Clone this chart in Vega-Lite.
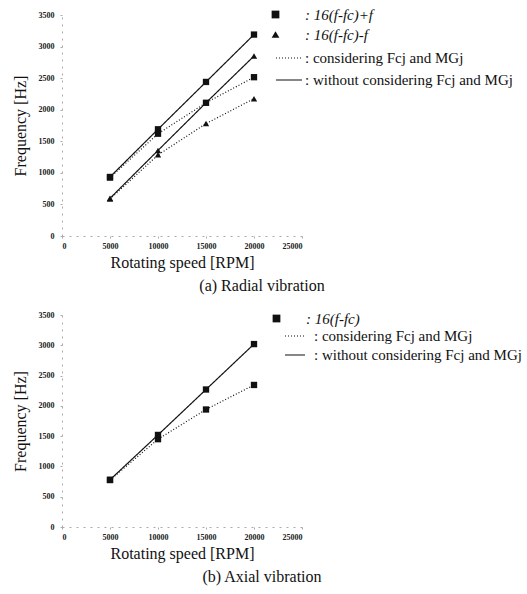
{
  "$schema": "https://vega.github.io/schema/vega-lite/v6.json",
  "background": "white",
  "padding": {"left": 12, "top": 7, "right": 5, "bottom": 5},
  "spacing": 17,
  "config": {
    "view": {"stroke": null},
    "font": "Liberation Serif",
    "axis": {
      "grid": false,
      "labelFont": "Liberation Serif",
      "labelFontSize": 8,
      "labelFontWeight": "bold",
      "labelColor": "#222",
      "titleFont": "Liberation Serif",
      "titleFontSize": 16,
      "titleFontWeight": "normal",
      "titleColor": "#111",
      "domainColor": "#aaa",
      "domainDash": [2, 5],
      "tickColor": "#aaa",
      "tickSize": 2
    },
    "legend": {
      "labelFont": "Liberation Serif",
      "labelFontSize": 15,
      "labelColor": "#111",
      "labelLimit": 400,
      "rowPadding": 4
    }
  },
  "datasets": {
    "radial": [
      {"speed": 5000, "freq": 935, "mode": "plus", "cond": "without"},
      {"speed": 10000, "freq": 1690, "mode": "plus", "cond": "without"},
      {"speed": 15000, "freq": 2440, "mode": "plus", "cond": "without"},
      {"speed": 20000, "freq": 3190, "mode": "plus", "cond": "without"},
      {"speed": 5000, "freq": 925, "mode": "plus", "cond": "considering"},
      {"speed": 10000, "freq": 1620, "mode": "plus", "cond": "considering"},
      {"speed": 15000, "freq": 2110, "mode": "plus", "cond": "considering"},
      {"speed": 20000, "freq": 2515, "mode": "plus", "cond": "considering"},
      {"speed": 5000, "freq": 597, "mode": "minus", "cond": "without"},
      {"speed": 10000, "freq": 1355, "mode": "minus", "cond": "without"},
      {"speed": 15000, "freq": 2110, "mode": "minus", "cond": "without"},
      {"speed": 20000, "freq": 2850, "mode": "minus", "cond": "without"},
      {"speed": 5000, "freq": 585, "mode": "minus", "cond": "considering"},
      {"speed": 10000, "freq": 1285, "mode": "minus", "cond": "considering"},
      {"speed": 15000, "freq": 1780, "mode": "minus", "cond": "considering"},
      {"speed": 20000, "freq": 2175, "mode": "minus", "cond": "considering"}
    ],
    "axial": [
      {"speed": 5000, "freq": 780, "mode": "single", "cond": "without"},
      {"speed": 10000, "freq": 1520, "mode": "single", "cond": "without"},
      {"speed": 15000, "freq": 2270, "mode": "single", "cond": "without"},
      {"speed": 20000, "freq": 3020, "mode": "single", "cond": "without"},
      {"speed": 5000, "freq": 775, "mode": "single", "cond": "considering"},
      {"speed": 10000, "freq": 1450, "mode": "single", "cond": "considering"},
      {"speed": 15000, "freq": 1940, "mode": "single", "cond": "considering"},
      {"speed": 20000, "freq": 2345, "mode": "single", "cond": "considering"}
    ]
  },
  "resolve": {
    "scale": {"shape": "independent", "strokeDash": "independent"},
    "legend": {"shape": "independent", "strokeDash": "independent"}
  },
  "vconcat": [
    {
      "width": 240,
      "height": 221,
      "data": {"name": "radial"},
      "title": {"text": "(a) Radial vibration", "orient": "bottom", "anchor": "middle", "dx": 80, "offset": 8, "font": "Liberation Serif", "fontSize": 16, "fontWeight": "normal", "color": "#111"},
      "encoding": {
        "x": {"field": "speed", "type": "quantitative", "scale": {"domain": [0, 25000]},
              "axis": {"title": "Rotating speed [RPM]", "values": [0, 5000, 10000, 15000, 20000, 25000], "format": "d", "labelPadding": 4, "titlePadding": 4}},
        "y": {"field": "freq", "type": "quantitative", "scale": {"domain": [0, 3500]},
              "axis": {"title": "Frequency [Hz]", "values": [0, 500, 1000, 1500, 2000, 2500, 3000, 3500], "format": "d", "labelPadding": 6, "titlePadding": 10}}
      },
      "layer": [
        {
          "mark": {"type": "line", "color": "#111", "strokeWidth": 1.2},
          "encoding": {
            "detail": {"field": "mode"},
            "strokeDash": {"field": "cond", "type": "nominal",
              "scale": {"domain": ["considering", "without"], "range": [[1, 2], [1, 0]]},
              "legend": {"title": null, "orient": "none", "legendX": 213, "legendY": 29, "symbolType": "stroke", "symbolSize": 676, "symbolStrokeColor": "#111", "symbolStrokeWidth": 1.2, "labelOffset": 2, "rowPadding": 0,
                "labelExpr": "datum.label == 'considering' ? ': considering Fcj and MGj' : ': without considering Fcj and MGj'"}}
          }
        },
        {
          "mark": {"type": "point", "filled": true, "color": "#111", "opacity": 1, "size": 40},
          "encoding": {
            "shape": {"field": "mode", "type": "nominal",
              "scale": {"domain": ["plus", "minus"], "range": ["square", "triangle-up"]},
              "legend": {"title": null, "orient": "none", "legendX": 206, "legendY": -8, "symbolSize": 60, "symbolFillColor": "#111", "symbolStrokeWidth": 0, "labelOffset": 22, "labelFontStyle": "italic",
                "labelExpr": "datum.label == 'plus' ? ': 16(f-fc)+f' : ': 16(f-fc)-f'"}}
          }
        }
      ]
    },
    {
      "width": 240,
      "height": 212,
      "data": {"name": "axial"},
      "title": {"text": "(b) Axial vibration", "orient": "bottom", "anchor": "middle", "dx": 80, "offset": 8, "font": "Liberation Serif", "fontSize": 16, "fontWeight": "normal", "color": "#111"},
      "encoding": {
        "x": {"field": "speed", "type": "quantitative", "scale": {"domain": [0, 25000]},
              "axis": {"title": "Rotating speed [RPM]", "values": [0, 5000, 10000, 15000, 20000, 25000], "format": "d", "labelPadding": 4, "titlePadding": 4}},
        "y": {"field": "freq", "type": "quantitative", "scale": {"domain": [0, 3500]},
              "axis": {"title": "Frequency [Hz]", "values": [0, 500, 1000, 1500, 2000, 2500, 3000, 3500], "format": "d", "labelPadding": 6, "titlePadding": 10}}
      },
      "layer": [
        {
          "mark": {"type": "line", "color": "#111", "strokeWidth": 1.2},
          "encoding": {
            "detail": {"field": "mode"},
            "strokeDash": {"field": "cond", "type": "nominal",
              "scale": {"domain": ["considering", "without"], "range": [[1, 2], [1, 0]]},
              "legend": {"title": null, "orient": "none", "legendX": 222, "legendY": 10, "symbolType": "stroke", "symbolSize": 400, "symbolStrokeColor": "#111", "symbolStrokeWidth": 1.2, "labelOffset": 8, "rowPadding": 0,
                "labelExpr": "datum.label == 'considering' ? ': considering Fcj and MGj' : ': without considering Fcj and MGj'"}}
          }
        },
        {
          "mark": {"type": "point", "filled": true, "color": "#111", "opacity": 1, "size": 40, "shape": "square"},
          "encoding": {
            "shape": {"field": "mode", "type": "nominal",
              "scale": {"domain": ["single"], "range": ["square"]},
              "legend": {"title": null, "orient": "none", "legendX": 207, "legendY": -4, "symbolSize": 60, "symbolFillColor": "#111", "symbolStrokeWidth": 0, "labelOffset": 22, "labelFontStyle": "italic",
                "labelExpr": "': 16(f-fc)'"}}
          }
        }
      ]
    }
  ]
}
